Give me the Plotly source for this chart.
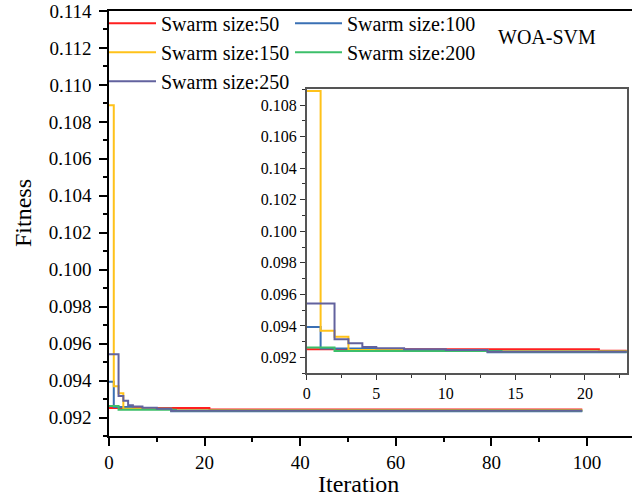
import plotly.graph_objects as go

# ---- data (change points of each step-wise convergence curve) ----
iter_50 = [0, 21, 99]
fit_50 = [0.09252, 0.09243, 0.09243]

iter_100 = [0, 1, 5, 13, 99]
fit_100 = [0.09394, 0.09257, 0.09248, 0.09234, 0.09234]

iter_150 = [0, 1, 2, 3, 13, 99]
fit_150 = [0.10890, 0.09369, 0.09331, 0.09248, 0.09240, 0.09240]

iter_200 = [0, 2, 14, 99]
fit_200 = [0.09263, 0.09242, 0.09237, 0.09237]

iter_250 = [0, 2, 3, 4, 5, 7, 10, 13, 99]
fit_250 = [0.09542, 0.09316, 0.09291, 0.09267, 0.09259, 0.09253, 0.09248, 0.09236, 0.09236]

names = ["Swarm size:50", "Swarm size:100", "Swarm size:150", "Swarm size:200", "Swarm size:250"]
colors = ["#FF1F1F", "#3A70B4", "#FFC21A", "#3CBF6A", "#62629E"]
legend_col = ["legend", "legend2", "legend", "legend2", "legend"]
series = [(iter_50, fit_50), (iter_100, fit_100), (iter_150, fit_150),
          (iter_200, fit_200), (iter_250, fit_250)]

FONT = "Liberation Serif"

fig = go.Figure()
for (x, y), n, c, lg in zip(series, names, colors, legend_col):
    fig.add_trace(go.Scatter(x=x, y=y, mode="lines", name=n, line=dict(color=c, width=2, shape="hv"),
                             xaxis="x", yaxis="y", legend=lg))
for (x, y), n, c in zip(series, names, colors):
    fig.add_trace(go.Scatter(x=x, y=y, mode="lines", name=n, line=dict(color=c, width=2, shape="hv"),
                             xaxis="x2", yaxis="y2", showlegend=False))

W, H = 632, 498
L, R, T, B = 109, 0, 11, 62
pw, ph = W - L - R, H - T - B

legend_style = dict(orientation="v", yanchor="top", xanchor="left", itemwidth=47,
                    font=dict(family=FONT, size=20), bgcolor="rgba(0,0,0,0)", tracegroupgap=0)

fig.update_layout(
    width=W, height=H,
    margin=dict(l=L, r=R, t=T, b=B),
    paper_bgcolor="white", plot_bgcolor="white",
    font=dict(family=FONT, color="black"),
    showlegend=True,
    legend=dict(x=(104 - L) / pw, y=1.017, **legend_style),
    legend2=dict(x=(290 - L) / pw, y=1.017, **legend_style),
    xaxis=dict(domain=[0, 1], range=[0, 109.4], dtick=20, tick0=0,
               showline=True, linecolor="black", linewidth=1.5, mirror=True,
               ticks="outside", ticklen=8, tickwidth=1.5, tickcolor="black",
               minor=dict(dtick=10, ticks="outside", ticklen=4, tickcolor="black", tickwidth=1.5),
               showgrid=False, zeroline=False,
               tickfont=dict(family=FONT, size=19)),
    yaxis=dict(domain=[0, 1], range=[0.091, 0.114], dtick=0.002, tick0=0.092, tickformat=".3f",
               showline=True, linecolor="black", linewidth=1.5, mirror=False,
               ticks="outside", ticklen=8, tickwidth=1.5, tickcolor="black",
               minor=dict(dtick=0.001, ticks="outside", ticklen=4, tickcolor="black", tickwidth=1.5),
               showgrid=False, zeroline=False, ticklabelstandoff=4,
               tickfont=dict(family=FONT, size=19)),
    xaxis2=dict(domain=[(306.7 - L) / pw, (626.7 - L) / pw], anchor="y2", range=[0, 23],
                dtick=5, tick0=0,
                showline=True, linecolor="#555555", linewidth=1.5, mirror=True,
                ticks="outside", ticklen=5, tickwidth=1, tickcolor="#333333",
                minor=dict(dtick=2.5, ticks="outside", ticklen=3, tickcolor="#333333", tickwidth=1),
                showgrid=False, zeroline=False,
                tickfont=dict(family=FONT, size=16)),
    yaxis2=dict(domain=[(436 - 373.3) / ph, (436 - 89.3) / ph], anchor="x2", range=[0.091, 0.109],
                dtick=0.002, tick0=0.092, tickformat=".3f",
                showline=True, linecolor="#555555", linewidth=1.5, mirror=True,
                ticks="outside", ticklen=5, tickwidth=1, tickcolor="#333333",
                minor=dict(dtick=0.001, ticks="outside", ticklen=3, tickcolor="#333333", tickwidth=1),
                showgrid=False, zeroline=False,
                tickfont=dict(family=FONT, size=16)),
    annotations=[
        dict(text="WOA-SVM", xref="paper", yref="paper",
             x=(547 - L) / pw, y=(436 - 37) / ph, xanchor="center", yanchor="middle",
             showarrow=False, font=dict(family=FONT, size=20)),
        dict(text="Iteration", xref="paper", yref="paper",
             x=(358 - L) / pw, y=(436 - 484) / ph, xanchor="center", yanchor="middle",
             showarrow=False, font=dict(family=FONT, size=24)),
        dict(text="Fitness", xref="paper", yref="paper", textangle=-90,
             x=(23 - L) / pw, y=(436 - 213) / ph, xanchor="center", yanchor="middle",
             showarrow=False, font=dict(family=FONT, size=24)),
    ],
)

fig.write_html("out.html")
